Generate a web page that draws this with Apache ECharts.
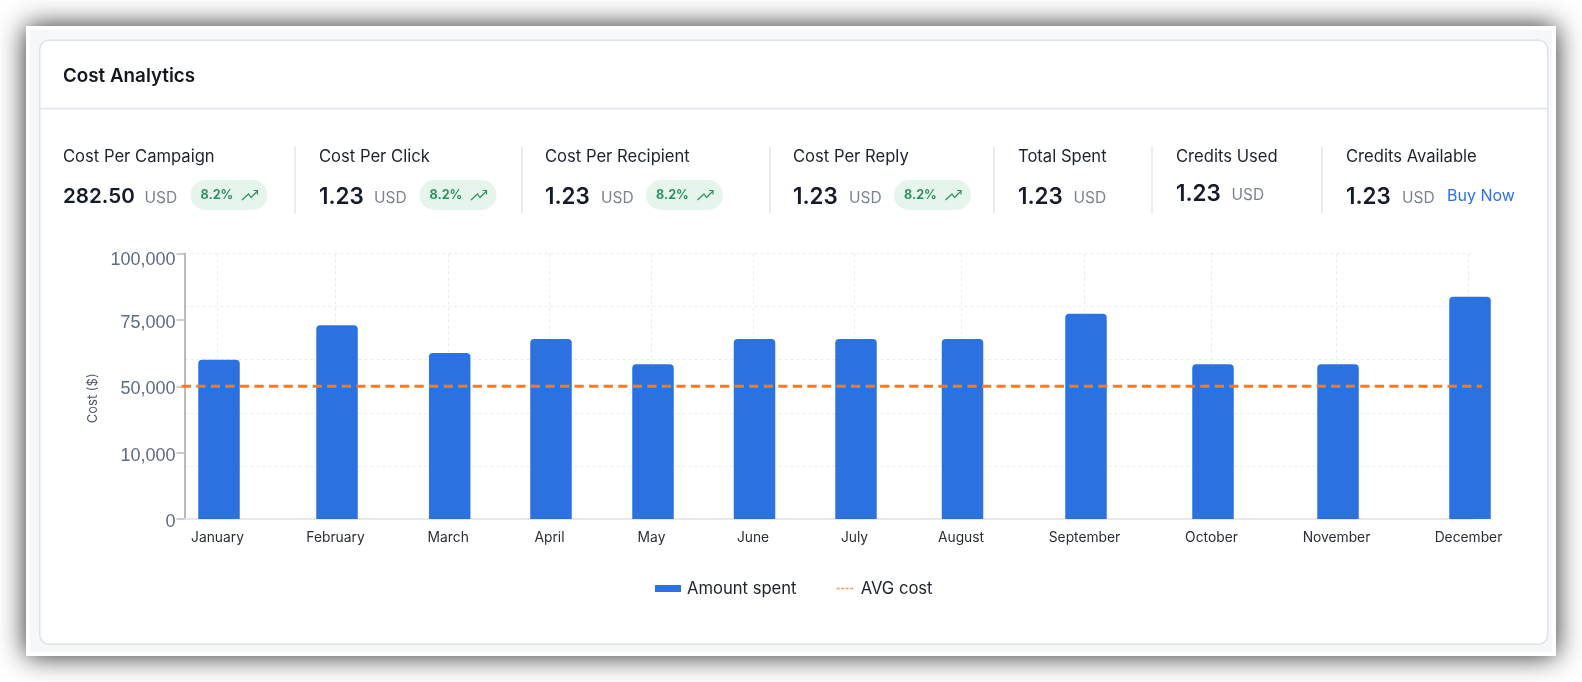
<!DOCTYPE html>
<html><head><meta charset="utf-8">
<style>html,body{margin:0;padding:0;background:#fff;overflow:hidden}#c{width:1582px;height:682px}</style>
<script src="https://cdn.jsdelivr.net/npm/echarts@6/dist/echarts.min.js"></script>
</head><body><div id="c"></div>
<script>
const title = 'Cost Analytics';
const months = ['January','February','March','April','May','June','July','August','September','October','November','December'];
const monthSlots = [34.5,152.5,265.2,366.5,468.5,570,671.5,778,901.5,1028.5,1153.5,1285.5];
const amountSpent = [60000,73000,62500,67800,58300,67800,67800,67800,77300,58300,58300,83700];
const avgSlots = [0,1300.3];
const avgCost = [50000,50000];
const yTickValues = [0,25000,50000,75000,100000];
const yTickLabels = ['0','10,000','50,000','75,000','100,000'];
const kpiNames = ['Cost Per Campaign','Cost Per Click','Cost Per Recipient','Cost Per Reply','Total Spent','Credits Used','Credits Available'];
const kpiValues = ['282.50','1.23','1.23','1.23','1.23','1.23','1.23'];
const kpiUnit = 'USD';
const kpiChange = ['8.2%','8.2%','8.2%','8.2%',null,null,null];
const buyNow = 'Buy Now';

const F = 'Inter, "Noto Sans", sans-serif';
const layout = [
 {x:63, usd:144.5, badge:190.5, dy:0, vf:20.6},
 {x:319, usd:374, badge:419.5, dy:0, vf:22.4},
 {x:545, usd:601, badge:646, dy:0, vf:22.4},
 {x:793, usd:849, badge:894, dy:0, vf:22.4},
 {x:1018, usd:1073.5, dy:0, vf:22.4},
 {x:1176, usd:1231.5, dy:-2.5, vf:22.4},
 {x:1346, usd:1402, dy:0, vf:22.4}
];
const seps = [295,522,770,994,1152,1322];

const g = [];
g.push({type:'rect',z:-30,shape:{x:26,y:26,width:1530,height:630},style:{fill:'#fff',shadowBlur:26,shadowColor:'rgba(0,0,0,0.85)',shadowOffsetX:0,shadowOffsetY:0}});
g.push({type:'rect',z:-29,shape:{x:30,y:30,width:1522,height:622},style:{fill:'#f6f7f9'}});
g.push({type:'rect',z:-28,shape:{x:39.75,y:40.25,width:1508,height:604,r:9},style:{fill:'#fff',stroke:'#dde2ec',lineWidth:1.5}});
g.push({type:'line',z:-27,shape:{x1:40,y1:108.5,x2:1548,y2:108.5},style:{stroke:'#dde2ec',lineWidth:1.5}});
g.push({type:'text',z:5,x:63,y:76.5,style:{text:title,font:'600 18.8px '+F,fill:'#14171f',verticalAlign:'middle'}});
seps.forEach(x=>g.push({type:'line',z:-27,shape:{x1:x,y1:146.5,x2:x,y2:213.5},style:{stroke:'#e4e6ea',lineWidth:1.5}}));
kpiNames.forEach((n,i)=>{
  const l = layout[i];
  g.push({type:'text',z:5,x:l.x,y:157,style:{text:n,font:'400 16.6px '+F,fill:'#1b2230',verticalAlign:'middle'}});
  g.push({type:'text',z:5,x:l.x,y:197+l.dy,style:{text:kpiValues[i],font:'600 '+l.vf+'px '+F,fill:'#151b2b',verticalAlign:'middle'}});
  g.push({type:'text',z:5,x:l.usd,y:198+l.dy,style:{text:kpiUnit,font:'400 15.5px '+F,fill:'#7b8291',verticalAlign:'middle'}});
  if(kpiChange[i]){
    const b=l.badge;
    g.push({type:'rect',z:-20,shape:{x:b,y:180,width:77,height:30,r:15},style:{fill:'#e6f5ec'}});
    g.push({type:'text',z:5,x:b+10,y:195.5,style:{text:kpiChange[i],font:'700 12.6px '+F,fill:'#2e9160',verticalAlign:'middle'}});
    g.push({type:'polyline',z:5,shape:{points:[[b+51.5,200],[b+58,194],[b+60.5,197.5],[b+67,191]]},style:{stroke:'#2e9160',lineWidth:1.2,fill:'none'}});
    g.push({type:'polyline',z:5,shape:{points:[[b+63,190.5],[b+67,190.5],[b+67,194.5]]},style:{stroke:'#2e9160',lineWidth:1.2,fill:'none'}});
  }
});
g.push({type:'text',z:5,x:1447,y:196,style:{text:buyNow,font:'400 16px '+F,fill:'#2b72e6',verticalAlign:'middle'}});

const yFont = {fontFamily:'"Liberation Sans",Arial,sans-serif',fontSize:18,color:'#5d6b87'};
const chart = echarts.init(document.getElementById('c'));
chart.setOption({
  animation:false,
  backgroundColor:'#fff',
  graphic:{elements:g},
  grid:[
    {left:184.5,top:253.5,width:1287.5,height:265.5,containLabel:false},
    {left:181.7,top:253.5,width:1300.3,height:265.5,containLabel:false}
  ],
  legend:[
    {data:['Amount spent'],left:655,top:580,padding:0,itemWidth:26,itemHeight:7,icon:'rect',
     textStyle:{fontFamily:F,fontSize:16.6,color:'#20242e',padding:[0,0,0,1]}},
    {data:['AVG cost'],left:836,top:580,padding:0,itemWidth:18,itemHeight:7,
     itemStyle:{opacity:0,color:'transparent',borderWidth:0},
     lineStyle:{width:1.3,type:[3,1.5],color:'#f79a5c'},
     textStyle:{fontFamily:F,fontSize:16.6,color:'#20242e',padding:[0,0,0,1]}}
  ],
  xAxis:[
   {type:'value',gridIndex:0,min:0,max:1287.5,
    axisLine:{show:true,onZero:false,lineStyle:{color:'#e6e8ec',width:2}},
    axisTick:{show:false,customValues:monthSlots.map(v=>v-1.5)},
    axisLabel:{customValues:monthSlots.map(v=>v-1.5),margin:12,fontFamily:F,fontSize:13.8,color:'#2a2e38',
      formatter:v=>{const i=monthSlots.findIndex(m=>Math.abs(m-1.5-v)<0.01);return i>=0?months[i]:'';}},
    splitLine:{show:true,lineStyle:{color:'#e9ebef',width:1,type:[3,3]}}},
   {type:'value',gridIndex:1,min:0,max:1300.3,show:false,splitLine:{show:false}}
  ],
  yAxis:[
    {type:'value',gridIndex:0,min:0,max:100000,interval:25000,
     name:'Cost ($)',nameLocation:'middle',nameGap:82,
     nameTextStyle:{fontFamily:F,fontSize:13,color:'#4b5563',padding:[0,24,0,0]},
     axisLine:{show:true,lineStyle:{color:'#a0a4ad',width:1.5}},
     axisTick:{show:true,length:8,lineStyle:{color:'#b9bdc6',width:1.5}},
     axisLabel:{margin:9,verticalAlign:'top',
       rich:{n:Object.assign({lineHeight:6},yFont),t:Object.assign({lineHeight:14},yFont)},
       formatter:v=>'{'+(v===100000?'t':'n')+'|'+yTickLabels[yTickValues.indexOf(v)]+'}'},
     splitLine:{show:false}},
    {type:'value',gridIndex:0,min:0,max:100000,interval:20000,
     axisLine:{show:false},axisTick:{show:false},axisLabel:{show:false},
     splitLine:{show:true,lineStyle:{color:'#e9ebef',width:1,type:[3,3]}}},
    {type:'value',gridIndex:1,min:0,max:100000,show:false,splitLine:{show:false}}
  ],
  series:[
    {name:'Amount spent',type:'bar',xAxisIndex:0,yAxisIndex:0,clip:false,barWidth:41.5,
     data:monthSlots.map((x,i)=>[x,amountSpent[i]]),
     itemStyle:{color:'#2b72e0',borderRadius:[4,4,0,0]}},
    {name:'AVG cost',type:'line',xAxisIndex:1,yAxisIndex:2,showSymbol:false,symbol:'none',z:5,
     data:avgSlots.map((x,i)=>[x,avgCost[i]]),
     itemStyle:{color:'#f97a1f'},
     lineStyle:{color:'#f97a1f',width:2.8,type:[9.25,5.3]}}
  ]
});
</script></body></html>
